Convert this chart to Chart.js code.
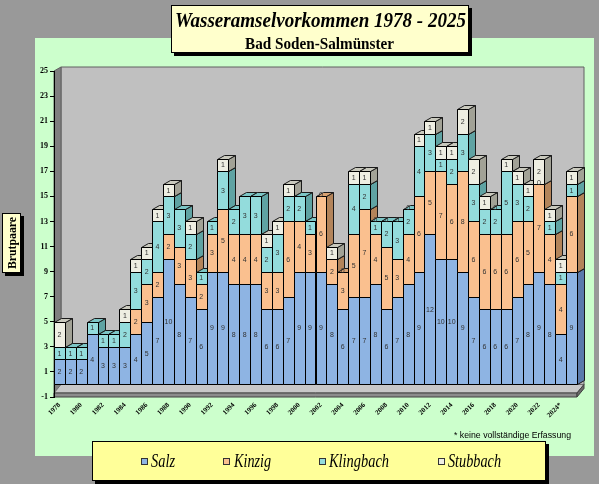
<!DOCTYPE html>
<html>
<head>
<meta charset="utf-8">
<title>Wasseramselvorkommen 1978 - 2025</title>
<script src="https://cdn.jsdelivr.net/npm/chart.js@4.4.1/dist/chart.umd.min.js"></script>
<style>
    html, body { margin: 0; padding: 0; background: #999999; }
    #wrap { position: relative; width: 599px; height: 484px; overflow: hidden; }
</style>
</head>
<body>
<div id="wrap"><canvas id="myBarChart" width="599" height="484"></canvas></div>
<script>
// Daten (Brutpaare je Gewässer)
var years = ['1978', '1979', '1980', '1981', '1982', '1983', '1984', '1985', '1986', '1987',
    '1988', '1989', '1990', '1991', '1992', '1993', '1994', '1995', '1996', '1997',
    '1998', '1999', '2000', '2001', '2002', '2003', '2004', '2005', '2006', '2007',
    '2008', '2009', '2010', '2011', '2012', '2013', '2014', '2015', '2016', '2017',
    '2018', '2019', '2020', '2021', '2022', '2023', '2024*', '2025'];

var salz = [2, 2, 2, 4, 3, 3, 3, 4, 5, 7, 10, 8, 7, 6, 9, 9, 8, 8, 8, 6, 6, 7, 9, 9,
    9, 8, 6, 7, 7, 8, 6, 7, 8, 9, 12, 10, 10, 9, 7, 6, 6, 6, 7, 8, 9, 8, 4, 9];
var kinzig = [null, null, null, null, null, null, null, 2, 3, 2, 2, 3, 3, 2, 3, 5, 4, 4, 4, 3, 3, 6, 4, 3,
    6, 2, 3, 5, 7, 4, 5, 3, 4, 6, 5, 7, 6, 8, 6, 6, 6, 6, 6, 5, 7, 4, 4, 6];
var klingbach = [1, 1, 1, 1, 1, 1, 2, 3, 2, 4, 3, 3, 2, 1, 1, 3, 2, 3, 3, 2, 3, 2, 2, 1,
    0, null, 0, 4, 2, 1, 2, 3, 2, 4, 3, 1, 2, 3, 3, 2, 2, 5, 3, 2, 0, 1, 1, 1];
var stubbach = [2, null, null, null, null, null, 1, 1, 1, 1, 1, null, 1, null, null, 1, null, null, null, 1, 1, 1, null, null,
    null, 1, null, 1, 1, 0, 0, 0, 0, 1, 1, 1, 1, 2, 2, 1, 0, 1, 1, 1, 2, 1, 1, 1];

var seriesNames = ['Salz', 'Kinzig', 'Klingbach', 'Stubbach'];
var yTicks = [-1, 1, 3, 5, 7, 9, 11, 13, 15, 17, 19, 21, 23, 25];

// Farben: Vorderseite, Seite, Deckel
var frontColors = ['#8eb4e3', '#fac08f', '#93dcdc', '#eeeee2'];
var sideColors = ['#5b7bab', '#b3845a', '#5fa3a3', '#a2a296'];
var topColors = ['#7396c8', '#d9a272', '#7cc6c6', '#c9c9bd'];

var depthX = 7;
var depthY = 4;

function poly(ctx, pts, fill, stroke) {
    ctx.beginPath();
    ctx.moveTo(pts[0][0], pts[0][1]);
    for (var i = 1; i < pts.length; i++) ctx.lineTo(pts[i][0], pts[i][1]);
    ctx.closePath();
    ctx.fillStyle = fill;
    ctx.fill();
    if (stroke) {
        ctx.strokeStyle = stroke;
        ctx.lineWidth = 1;
        ctx.stroke();
    }
}

// Text horizontal auf eine Breite stauchen
function fitText(ctx, text, x, y, w) {
    var m = ctx.measureText(text).width;
    ctx.save();
    ctx.translate(x, y);
    ctx.scale(w / m, 1);
    ctx.textAlign = 'left';
    ctx.fillText(text, 0, 0);
    ctx.restore();
}

function box(ctx, x, y, w, h, fill) {
    ctx.fillStyle = '#000';
    ctx.fillRect(x + 3, y + 3, w, h);
    ctx.fillStyle = fill;
    ctx.fillRect(x, y, w, h);
    ctx.strokeStyle = '#000';
    ctx.lineWidth = 1;
    ctx.strokeRect(x + 0.5, y + 0.5, w - 1, h - 1);
}

// Hintergrund, Wände und Boden
var framePlugin = {
    id: 'frame',
    beforeDraw: function (chart) {
        var ctx = chart.ctx;
        var a = chart.chartArea;
        var y0 = chart.scales.y.getPixelForValue(0);
        ctx.save();
        ctx.fillStyle = '#999999';
        ctx.fillRect(0, 0, chart.width, chart.height);
        ctx.fillStyle = '#ccffcc';
        ctx.fillRect(35, 38, 559, 418);

        var L = a.left, R = a.right, T = a.top, B = a.bottom;
        // Rückwand
        poly(ctx, [[L + depthX, T - depthY], [R + depthX, T - depthY], [R + depthX, y0], [L + depthX, y0]], '#c0c0c0', '#606060');
        // linke Wand
        poly(ctx, [[L, T], [L + depthX, T - depthY], [L + depthX, y0], [L, B]], '#808080', '#606060');
        // Boden
        poly(ctx, [[L, B - 4], [L + depthX, y0], [R + depthX, y0], [R, B - 4]], '#c8c8c8', '#707070');
        poly(ctx, [[L, B - 4], [R, B - 4], [R, B], [L, B]], '#8c8c8c', '#404040');
        poly(ctx, [[R, B - 4], [R + depthX, y0], [R + depthX, y0 + 4], [R, B]], '#6a6a6a', '#404040');
        ctx.restore();
    },
    afterDraw: function (chart) {
        var ctx = chart.ctx;
        ctx.save();
        ctx.fillStyle = '#000';
        ctx.textBaseline = 'alphabetic';

        // Titel
        box(ctx, 171, 5, 298, 48, '#ffffcc');
        ctx.fillStyle = '#000';
        ctx.font = 'bold italic 22px "Liberation Serif"';
        fitText(ctx, 'Wasseramselvorkommen 1978 - 2025', 175, 27, 291);
        ctx.font = 'bold 16px "Liberation Serif"';
        fitText(ctx, 'Bad Soden-Salmünster', 245, 49, 149);

        // Achsentitel
        box(ctx, 2, 213, 19, 60, '#ffffcc');
        ctx.fillStyle = '#000';
        ctx.save();
        ctx.translate(16, 269);
        ctx.rotate(-Math.PI / 2);
        ctx.font = 'bold 13px "Liberation Serif"';
        fitText(ctx, 'Brutpaare', 0, 0, 52);
        ctx.restore();

        // Fussnote
        ctx.font = '9px "Liberation Sans"';
        fitText(ctx, '* keine vollständige Erfassung', 454, 438, 117);

        // Legende
        box(ctx, 92, 441, 454, 40, '#ffff99');
        var sq = [141, 223, 319, 438];
        var tx = [151, 234, 329, 448];
        var tw = [24, 37, 60, 53];
        ctx.font = 'italic 18px "Liberation Serif"';
        chart.data.datasets.forEach(function (ds, i) {
            ctx.fillStyle = ds.backgroundColor;
            ctx.fillRect(sq[i], 458, 7, 7);
            ctx.strokeStyle = '#333';
            ctx.strokeRect(sq[i] + 0.5, 458.5, 6, 6);
            ctx.fillStyle = '#000';
            fitText(ctx, ds.label, tx[i], 467, tw[i]);
        });
        ctx.restore();
    }
};

// Säulen in 3D-Optik, spaltenweise gezeichnet
var bars3dPlugin = {
    id: 'bars3d',
    beforeDatasetsDraw: function (chart) {
        var ctx = chart.ctx;
        var sets = chart.data.datasets;
        ctx.save();
        ctx.lineWidth = 1;
        for (var i = 0; i < years.length; i++) {
            for (var d = 0; d < sets.length; d++) {
                var raw = sets[d].data[i];
                if (raw === null || raw === 0) continue;
                var bar = chart.getDatasetMeta(d).data[i];
                var l = Math.round(bar.x - bar.width / 2) + 0.5;
                var r = Math.round(bar.x + bar.width / 2) + 0.5;
                var t = Math.round(bar.y) + 0.5;
                var b = Math.round(bar.base) + 0.5;
                poly(ctx, [[r, t], [r + depthX, t - depthY], [r + depthX, b - depthY], [r, b]], sideColors[d], '#1a1a1a');
                poly(ctx, [[l, t], [l + depthX, t - depthY], [r + depthX, t - depthY], [r, t]], topColors[d], '#1a1a1a');
                poly(ctx, [[l, t], [r, t], [r, b], [l, b]], frontColors[d], '#000');
            }
        }
        // Werte
        ctx.font = '7px "Liberation Sans"';
        ctx.fillStyle = '#333';
        ctx.textAlign = 'center';
        ctx.textBaseline = 'middle';
        for (var d2 = 0; d2 < sets.length; d2++) {
            var meta = chart.getDatasetMeta(d2);
            sets[d2].data.forEach(function (v, i) {
                if (v === null) return;
                var el = meta.data[i];
                if (v === 0) {
                    ctx.fillText('0', el.x, el.y - 1);
                } else {
                    ctx.fillText(String(v), el.x, (el.y + el.base) / 2 + 0.5);
                }
            });
        }
        ctx.restore();
        return false;
    }
};

var ctx = document.getElementById('myBarChart').getContext('2d');
var myBarChart = new Chart(ctx, {
    type: 'bar',
    data: {
        labels: years,
        datasets: [
            { label: seriesNames[0], data: salz, backgroundColor: frontColors[0] },
            { label: seriesNames[1], data: kinzig, backgroundColor: frontColors[1] },
            { label: seriesNames[2], data: klingbach, backgroundColor: frontColors[2] },
            { label: seriesNames[3], data: stubbach, backgroundColor: frontColors[3] }
        ]
    },
    options: {
        responsive: false,
        animation: false,
        datasets: {
            bar: { categoryPercentage: 1, barPercentage: 1 }
        },
        layout: {
            padding: { left: 20, right: 22, top: 71, bottom: 0 }
        },
        plugins: {
            legend: { display: false },
            tooltip: { enabled: false }
        },
        scales: {
            x: {
                stacked: true,
                grid: { display: false, drawTicks: false },
                border: { display: false },
                ticks: {
                    autoSkip: false,
                    minRotation: 45,
                    maxRotation: 45,
                    padding: 4,
                    color: '#000',
                    font: { family: 'Liberation Serif', size: 7, weight: 'bold' },
                    callback: function (value, index) {
                        return index % 2 === 0 ? years[index] : '';
                    }
                },
                afterFit: function (scale) { scale.height = 87; }
            },
            y: {
                stacked: true,
                min: -1,
                max: 25,
                afterBuildTicks: function (scale) {
                    scale.ticks = yTicks.map(function (v) { return { value: v }; });
                },
                grid: { drawOnChartArea: false, color: '#000', tickLength: 4 },
                border: { display: true, color: '#000' },
                ticks: {
                    padding: 2,
                    color: '#000',
                    font: { family: 'Liberation Serif', size: 8, weight: 'bold' }
                },
                afterFit: function (scale) { scale.width = 34; }
            }
        }
    },
    plugins: [framePlugin, bars3dPlugin]
});
</script>
</body>
</html>
